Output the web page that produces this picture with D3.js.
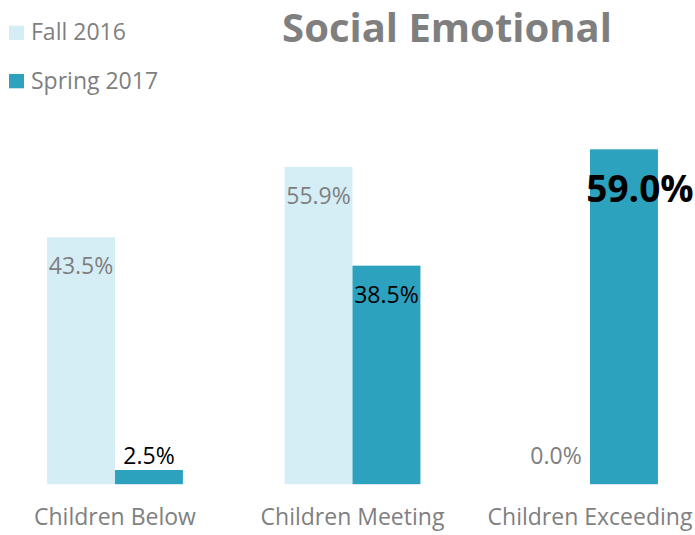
<!DOCTYPE html>
<html><head><meta charset="utf-8">
<script src="https://cdn.jsdelivr.net/npm/d3@7"></script>
<style>body{margin:0;background:#fff}svg{display:block}</style>
</head><body>
<svg id="chart" width="695" height="535"></svg>
<script>
const categories = ["Children Below", "Children Meeting", "Children Exceeding"];
const seriesNames = ["Fall 2016", "Spring 2017"];
const fall2016 = [43.5, 55.9, 0.0];
const spring2017 = [2.5, 38.5, 59.0];
const colors = ["#d5eef5", "#2ca2be"];
const labelColors = ["#7f7f7f", "#000000"];
const title = "Social Emotional";

const svg = d3.select("#chart");
const font = "'Open Sans', sans-serif";
const gray = "#7f7f7f";

const x = d3.scaleBand().domain(categories).range([-3.75, 708.75]).paddingInner(0.428).paddingOuter(0.214);
const xs = d3.scaleBand().domain(seriesNames).range([0, x.bandwidth()]);
const y = d3.scaleLinear().domain([0, 59]).range([484.2, 149.3]);

const series = [fall2016, spring2017];
const data = [];
categories.forEach((c, i) => series.forEach((s, j) => data.push({c, s: seriesNames[j], j, v: s[i]})));
const isMax = d => d.j === 1 && d.v === d3.max(spring2017);

svg.append("g").selectAll("rect").data(data.filter(d => d.v > 0)).join("rect")
  .attr("x", d => x(d.c) + xs(d.s))
  .attr("y", d => y(d.v))
  .attr("width", xs.bandwidth())
  .attr("height", d => y(0) - y(d.v))
  .attr("fill", d => colors[d.j]);

// data labels
svg.append("g").selectAll("text").data(data).join("text")
  .attr("x", d => {
    const cx = x(d.c) + xs(d.s) + xs.bandwidth() / 2;
    return isMax(d) ? cx + 16 : cx;
  })
  .attr("y", d => isMax(d) ? y(d.v) + 53 : Math.min(y(d.v) + 37, y(0) - 20))
  .attr("text-anchor", "middle")
  .attr("font-family", font)
  .attr("font-size", d => isMax(d) ? 37 : 23)
  .attr("font-weight", d => isMax(d) ? 700 : 400)
  .attr("fill", d => labelColors[d.j])
  .text(d => d3.format(".1f")(d.v) + "%");

// category axis labels
svg.append("g").selectAll("text").data(categories).join("text")
  .attr("x", d => x(d) + x.bandwidth() / 2)
  .attr("y", 525)
  .attr("text-anchor", "middle")
  .attr("font-family", font)
  .attr("font-size", 23)
  .attr("fill", gray)
  .text(d => d);

// title
svg.append("text")
  .attr("x", 447).attr("y", 42)
  .attr("text-anchor", "middle")
  .attr("font-family", font)
  .attr("font-size", 40)
  .attr("font-weight", 700)
  .attr("fill", gray)
  .text(title);

// legend
const lg = svg.append("g").selectAll("g").data(seriesNames).join("g")
  .attr("transform", (d, i) => `translate(9, ${25.7 + i * 48.3})`);
lg.append("rect").attr("width", 15).attr("height", 14.3).attr("fill", (d, i) => colors[i]);
lg.append("text").attr("x", 22).attr("y", 14.5)
  .attr("font-family", font).attr("font-size", 23).attr("fill", gray)
  .text(d => d);
</script>
</body></html>
